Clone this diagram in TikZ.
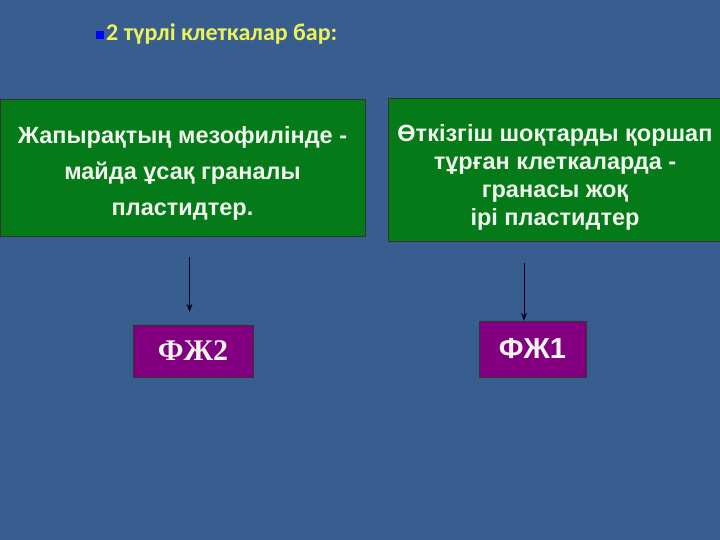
\documentclass[tikz,border=0pt]{standalone}
\usepackage{fontspec}
\setmainfont{Liberation Sans}
\newfontfamily\titlefont{Carlito}
\newfontfamily\serifcell{Liberation Serif}
\usetikzlibrary{arrows.meta}
\definecolor{slidebg}{RGB}{56,94,143}
\definecolor{cellgreen}{RGB}{4,122,24}
\definecolor{cellpurple}{RGB}{130,0,128}
\definecolor{titleyellow}{RGB}{238,242,90}
\definecolor{textwhite}{RGB}{240,244,236}
\tikzset{
  boxG/.style={ draw=black!80, fill=cellgreen, text=textwhite, align=center, inner sep=0pt, font=\bfseries }
}
\tikzset{
  boxP/.style={ draw=black!80, fill=cellpurple, text=textwhite, inner sep=0pt }
}
\tikzset{
  arr/.style={ draw=black!85!blue, -{Stealth[length=8pt,width=6pt]} }
}
\begin{document}
\begin{tikzpicture}[y=-1pt, x=1pt]
      \fill[slidebg] (0, 0) rectangle (720, 540);
      \useasboundingbox (0, 0) rectangle (720, 540);

      \node[fill=blue, inner sep=0pt, minimum size=8pt] (dot) at (100, 35) {};
      \node[anchor=west, text=titleyellow, font=\titlefont\bfseries\fontsize{24}{26}\selectfont, inner sep=0pt] (title) at (106, 34) {2 түрлі клеткалар бар:};

      \node[boxG, minimum width=365pt, minimum height=137pt, font=\bfseries\fontsize{23.5}{36}\selectfont] (meso) at (182.5, 167.5)
        {\rule{0pt}{28pt}Жапырақтың мезофилінде -\\майда ұсақ граналы\\пластидтер.};
      \node[boxG, minimum width=334pt, minimum height=143pt, font=\bfseries\fontsize{23.5}{28}\selectfont] (shoq) at (555, 169.5)
        {\rule{0pt}{33pt}Өткізгіш шоқтарды қоршап\\тұрған клеткаларда -\\гранасы жоқ\\ірі пластидтер};

      \node[boxP, minimum width=120pt, minimum height=52pt, font=\serifcell\bfseries\fontsize{30}{32}\selectfont] (fzh2) at (193, 351) {ФЖ2};
      \node[boxP, minimum width=107pt, minimum height=56pt, font=\bfseries\fontsize{29}{32}\selectfont] (fzh1) at (532.5, 349) {ФЖ1};

      \draw[arr, line width=1.8pt, shorten <=21pt, shorten >=13pt] ([xshift=-3.5pt]fzh2.north |- meso.south) -- ([xshift=-3.5pt]fzh2.north);
      \draw[arr, line width=1pt, shorten <=22pt] ([xshift=-8.5pt]fzh1.north |- shoq.south) -- ([xshift=-8.5pt]fzh1.north);
    \end{tikzpicture}
\end{document}
